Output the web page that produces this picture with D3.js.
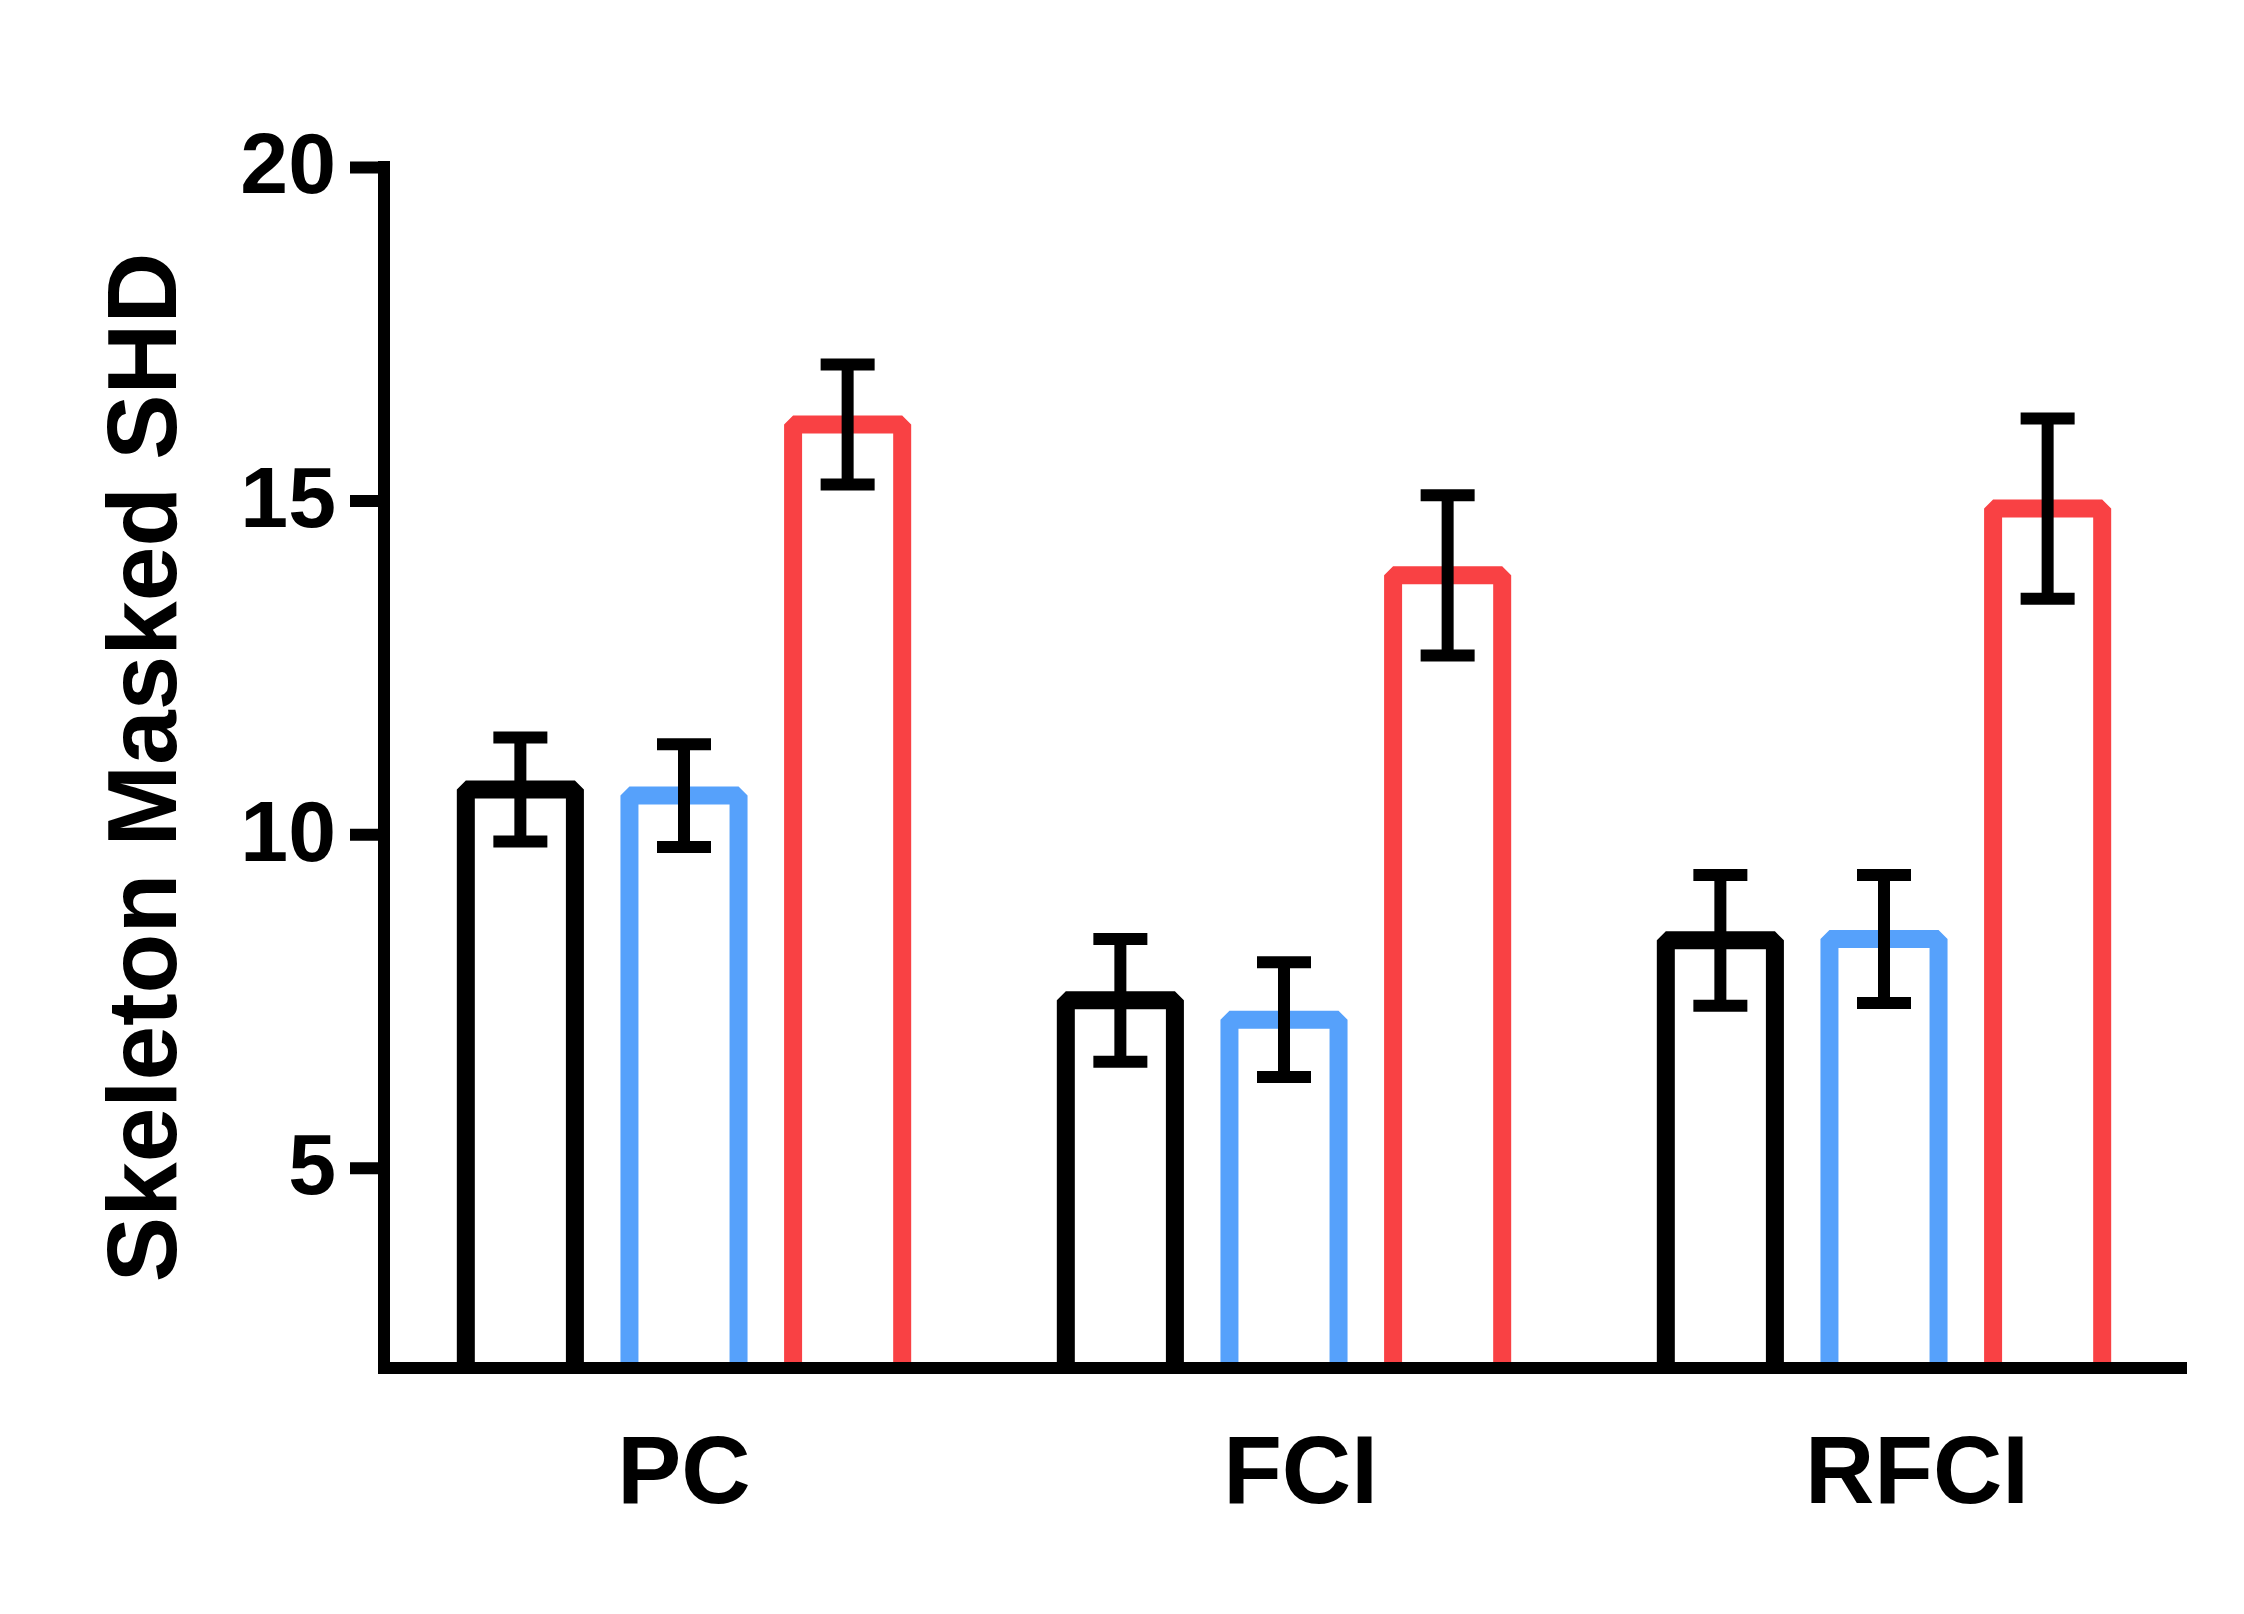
<!DOCTYPE html>
<html>
<head>
<meta charset="utf-8">
<script src="https://cdn.jsdelivr.net/npm/d3@7"></script>
<style>
	body { margin: 0; background: #fff; }
	svg { display: block; }
	text { font-family: "Liberation Sans", Arial, sans-serif; font-weight: bold; fill: #000; }
</style>
</head>
<body>
<div id="chart"></div>
<script>
// Data
//---------------------------------------------------------------------------
var groups = ["PC", "FCI", "RFCI"];
var series = ["s1", "s2", "s3"];
var colors = ["#000000", "#56a1fb", "#f94144"];
// mean per group, one array per series
var means = [
	[10.67, 7.51, 8.41],
	[10.58, 7.22, 8.43],
	[16.14, 13.88, 14.88]
];
// error (half range of the whiskers)
var errors = [
	[0.78, 0.92, 0.98],
	[0.77, 0.86, 0.96],
	[0.90, 1.20, 1.35]
];
var yTicks = [5, 10, 15, 20];
var yTitle = "Skeleton Masked SHD";

// Chart module
//---------------------------------------------------------------------------
var chart = (function() {
	var width = 2244, height = 1614;
	var left = 384, right = 2184, top = 167, bottom = 1368;

	var svg = d3.select("#chart").append("svg")
		.attr("width", width)
		.attr("height", height);

	var y = d3.scaleLinear().domain([2, 20]).range([bottom, top]);
	var x0 = d3.scaleBand().domain(groups).range([left, right]);
	var x1 = d3.scaleBand().domain(series).range([0, x0.bandwidth()])
		.paddingInner(1 / 3).paddingOuter(0.5);
	// labels in the original sit a little off the group centres
	var xl = d3.scalePoint().domain(groups).range([684, 1917]);

	// flatten into one row per bar
	var rows = [];
	groups.forEach(function(g, gi) {
		series.forEach(function(s, si) {
			rows.push({ group: g, series: s, color: colors[si],
				mean: means[si][gi], err: errors[si][gi] });
		});
	});

	// open bars, three sides only
	svg.append("g").selectAll("path")
		.data(rows).enter()
		.append("path")
		.attr("d", function(d) {
			var xa = x0(d.group) + x1(d.series);
			var xb = xa + x1.bandwidth();
			return "M" + xa + "," + y(2) + "V" + y(d.mean) + "H" + xb + "V" + y(2);
		})
		.attr("fill", "none")
		.attr("stroke", function(d) { return d.color; })
		.attr("stroke-width", 18)
		.attr("stroke-linejoin", "bevel");

	// error bars
	var eb = svg.append("g").selectAll("g")
		.data(rows).enter()
		.append("g")
		.attr("transform", function(d) {
			return "translate(" + (x0(d.group) + x1(d.series) + x1.bandwidth() / 2) + ",0)";
		})
		.attr("stroke", "#000")
		.attr("stroke-width", 12);
	eb.append("line")
		.attr("y1", function(d) { return y(d.mean + d.err); })
		.attr("y2", function(d) { return y(d.mean - d.err); });
	eb.append("line")
		.attr("x1", -27).attr("x2", 27)
		.attr("y1", function(d) { return y(d.mean + d.err); })
		.attr("y2", function(d) { return y(d.mean + d.err); });
	eb.append("line")
		.attr("x1", -27).attr("x2", 27)
		.attr("y1", function(d) { return y(d.mean - d.err); })
		.attr("y2", function(d) { return y(d.mean - d.err); });

	// axes
	var yAxis = d3.axisLeft(y).tickValues(yTicks).tickSize(34).tickPadding(14);
	var gy = svg.append("g").attr("transform", "translate(" + left + ",0)").call(yAxis);
	gy.select(".domain").remove();
	gy.selectAll(".tick line").attr("stroke", "#000").attr("stroke-width", 12);
	gy.selectAll(".tick text")
		.attr("font-size", 86)
		.attr("dy", "0.3em");
	svg.append("line")
		.attr("x1", left).attr("x2", left)
		.attr("y1", y(20)).attr("y2", y(2))
		.attr("stroke", "#000").attr("stroke-width", 12)
		.attr("stroke-linecap", "square");
	svg.append("line")
		.attr("x1", left).attr("x2", right + 3)
		.attr("y1", y(2)).attr("y2", y(2))
		.attr("stroke", "#000").attr("stroke-width", 12);

	// group labels
	svg.append("g").selectAll("text")
		.data(groups).enter()
		.append("text")
		.attr("x", function(d) { return xl(d); })
		.attr("y", 1503)
		.attr("text-anchor", "middle")
		.attr("font-size", 96)
		.text(function(d) { return d; });

	// y title
	svg.append("text")
		.attr("transform", "translate(141," + ((top + bottom) / 2) + ") rotate(-90)")
		.attr("text-anchor", "middle")
		.attr("dy", "0.36em")
		.attr("font-size", 98)
		.text(yTitle);
})();
</script>
</body>
</html>
